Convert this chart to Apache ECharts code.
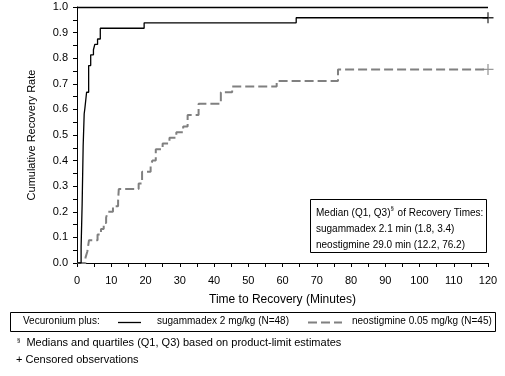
<!DOCTYPE html>
<html>
<head>
<meta charset="utf-8">
<script src="https://cdn.jsdelivr.net/npm/echarts@6/dist/echarts.min.js"></script>
<style>
  html, body { margin: 0; padding: 0; background: #fff; }
  #chart { width: 505px; height: 376px; }
</style>
</head>
<body>
<div id="chart"></div>
<script>
// 恢复时间 (分钟) 与累积恢复率 —— sugammadex
const sugTime = [0, 1.2, 1.5, 1.8, 2.1, 2.3, 2.8, 3.4, 4.0, 4.8, 5.2, 6.0, 6.8, 19.6, 64.0, 120];
const sugRate = [0, 0.063, 0.229, 0.458, 0.583, 0.604, 0.667, 0.771, 0.813, 0.833, 0.854, 0.875, 0.917, 0.938, 0.958, 0.958];
// neostigmine
const neoTime = [0, 2.5, 3.0, 3.5, 6.0, 7.0, 7.8, 8.5, 9.0, 10.5, 12.0, 12.2, 18.0, 19.0, 21.5, 22.0, 23.0, 25.0, 27.0, 29.0, 31.0, 32.3, 35.5, 42.0, 45.3, 58.3, 76.2, 120];
const neoRate = [0, 0.022, 0.044, 0.089, 0.111, 0.133, 0.156, 0.178, 0.2, 0.222, 0.244, 0.289, 0.311, 0.356, 0.378, 0.4, 0.444, 0.467, 0.489, 0.511, 0.533, 0.578, 0.622, 0.667, 0.689, 0.711, 0.756, 0.756];
// 删失观测
const censorSug = [[120, 0.958]];
const censorNeo = [[120, 0.756]];

const xTicks = [0, 10, 20, 30, 40, 50, 60, 70, 80, 90, 100, 110, 120];

const font = "Arial, 'Liberation Sans', sans-serif";
const plusPath = "path://M5.3,0 H6.7 V5.3 H12 V6.7 H6.7 V12 H5.3 V6.7 H0 V5.3 H5.3 Z";

const pairs = (xs, ys) => xs.map((x, i) => [x, ys[i]]);

const chart = echarts.init(document.getElementById("chart"));
const option = {
  animation: false,
  backgroundColor: "#fff",
  textStyle: { fontFamily: font },
  grid: { left: 77, right: 17, top: 7, bottom: 113 },
  xAxis: {
    type: "value",
    min: 0,
    max: 120,
    interval: 10,
    name: "Time to Recovery (Minutes)",
    nameLocation: "middle",
    nameGap: 31,
    nameTextStyle: { color: "#000", fontSize: 12, fontFamily: font },
    axisLine: { onZero: false, lineStyle: { color: "#000", width: 1 } },
    axisTick: { length: 4, lineStyle: { color: "#000" } },
    minorTick: { show: true, splitNumber: 2, length: 4, lineStyle: { color: "#000" } },
    axisLabel: {
      color: "#000",
      fontSize: 11,
      margin: 12,
      formatter: (v) => (xTicks.includes(v) ? String(v) : ""),
    },
    splitLine: { show: false },
  },
  yAxis: {
    type: "value",
    min: 0,
    max: 1,
    interval: 0.1,
    name: "Cumulative Recovery Rate",
    nameLocation: "middle",
    nameGap: 40,
    nameTextStyle: { color: "#000", fontSize: 11, fontFamily: font },
    axisLine: { show: true, lineStyle: { color: "#000", width: 1 } },
    axisTick: { show: true, length: 4, lineStyle: { color: "#000" } },
    minorTick: { show: true, splitNumber: 2, length: 4, lineStyle: { color: "#000" } },
    axisLabel: {
      color: "#000",
      fontSize: 11,
      margin: 9,
      formatter: (v) => v.toFixed(1),
    },
    splitLine: { show: false },
  },
  series: [
    {
      name: "sugammadex 2 mg/kg (N=48)",
      type: "line",
      step: "end",
      symbol: "none",
      data: pairs(sugTime, sugRate),
      lineStyle: { color: "#000", width: 1.3 },
      markLine: {
        silent: true,
        symbol: "none",
        label: { show: false },
        lineStyle: { color: "#000", width: 1.3, type: "solid" },
        data: [{ yAxis: 1 }],
      },
      z: 3,
    },
    {
      name: "neostigmine 0.05 mg/kg (N=45)",
      type: "line",
      step: "end",
      symbol: "none",
      data: pairs(neoTime, neoRate),
      lineStyle: { color: "#808080", width: 2, type: [9, 4] },
      z: 2,
    },
    {
      type: "scatter",
      symbol: plusPath,
      symbolSize: 11,
      data: censorSug,
      itemStyle: { color: "#000" },
      z: 4,
    },
    {
      type: "scatter",
      symbol: plusPath,
      symbolSize: 11,
      data: censorNeo,
      itemStyle: { color: "#808080" },
      z: 4,
    },
  ],
  graphic: [
    // 中位数说明框
    {
      type: "rect",
      shape: { x: 310.5, y: 199.5, width: 176, height: 53 },
      style: { fill: "#fff", stroke: "#000", lineWidth: 1 },
      z: 10,
    },
    {
      type: "text",
      left: 316,
      top: 205,
      z: 11,
      style: {
        text: "{t|Median (Q1, Q3)}{s|§}{t| of Recovery Times:}\n{t|sugammadex 2.1 min (1.8, 3.4)}\n{t|neostigmine 29.0 min (12.2, 76.2)}",
        font: "10px " + font,
        fill: "#000",
        lineHeight: 16,
        rich: {
          t: { fontSize: 10, fontFamily: font, lineHeight: 16, fill: "#000" },
          s: { fontSize: 6, fontFamily: font, verticalAlign: "top", lineHeight: 16, padding: [0, 1, 6, 0], fill: "#000" },
        },
      },
    },
    // 图例框
    {
      type: "rect",
      shape: { x: 10.5, y: 312.5, width: 485, height: 19 },
      style: { fill: "#fff", stroke: "#000", lineWidth: 1 },
    },
    {
      type: "text",
      left: 23,
      top: 316,
      style: { text: "Vecuronium plus:", font: "10px " + font, fill: "#000" },
    },
    {
      type: "line",
      shape: { x1: 118, y1: 322.5, x2: 141, y2: 322.5 },
      style: { stroke: "#000", lineWidth: 1.3 },
    },
    {
      type: "text",
      left: 157,
      top: 316,
      style: { text: "sugammadex 2 mg/kg (N=48)", font: "10px " + font, fill: "#000" },
    },
    {
      type: "line",
      shape: { x1: 308, y1: 322.5, x2: 342, y2: 322.5 },
      style: { stroke: "#808080", lineWidth: 2, lineDash: [9, 4] },
    },
    {
      type: "text",
      left: 352,
      top: 316,
      style: { text: "neostigmine 0.05 mg/kg (N=45)", font: "10px " + font, fill: "#000" },
    },
    // 脚注
    {
      type: "text",
      left: 17,
      top: 337,
      style: {
        text: "{s|§}{t|  Medians and quartiles (Q1, Q3) based on product-limit estimates}",
        rich: {
          s: { fontSize: 6, fontFamily: font, verticalAlign: "top", padding: [0, 0, 5, 0], fill: "#000" },
          t: { fontSize: 11, fontFamily: font, fill: "#000" },
        },
      },
    },
    {
      type: "text",
      left: 16,
      top: 354,
      style: { text: "+ Censored observations", font: "11px " + font, fill: "#000" },
    },
  ],
};
chart.setOption(option);
</script>
</body>
</html>
